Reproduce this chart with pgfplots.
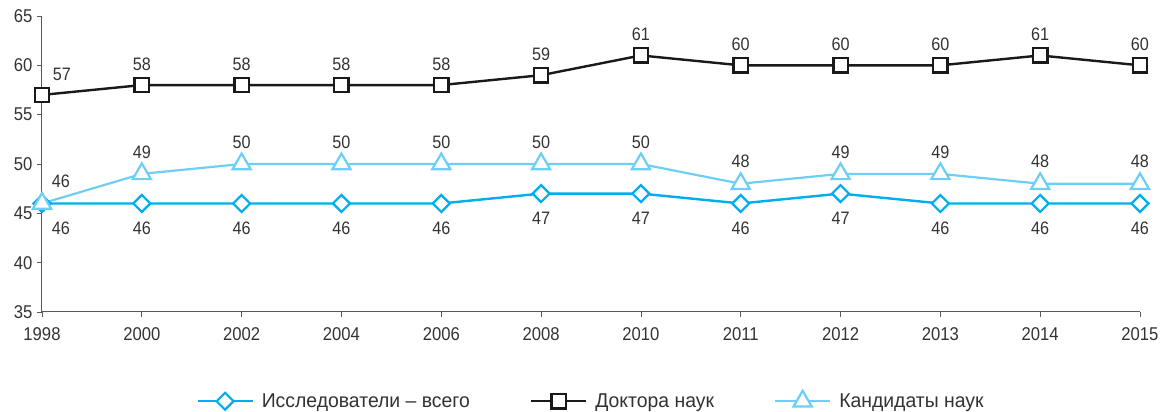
\documentclass[border=0pt]{standalone}
\usepackage{fontspec}
\setmainfont{Liberation Sans}[FakeStretch=0.97]
\newfontfamily\numfont{Liberation Sans}[FakeStretch=0.9]
\usepackage{pgfplots}
\pgfplotsset{compat=1.18}
\definecolor{cblue}{HTML}{00AEEF}
\definecolor{clight}{HTML}{6DCFF6}
\definecolor{axgray}{HTML}{5A5A5A}
\definecolor{txt}{HTML}{333333}
\begin{document}
\begin{tikzpicture}[x=1pt,y=1pt]
\useasboundingbox (0,0) rectangle (1160,412);
\begin{axis}[
  at={(42pt,100pt)}, anchor=south west,
  scale only axis, width=1098pt, height=296pt,
  xmin=0, xmax=11, ymin=35, ymax=65,
  axis x line*=bottom, axis y line*=left,
  xtick={0,...,11},
  xticklabels={1998,2000,2002,2004,2006,2008,2010,2011,2012,2013,2014,2015},
  ytick={35,40,...,65},
  tick align=outside, major tick length=5pt,
  tick style={axgray, line width=0.8pt},
  axis line style={axgray, line width=1pt},
  /pgf/number format/assume math mode=true,
  every tick label/.append style={font=\numfont\fontsize{18.5pt}{22pt}\selectfont, text=txt},
  xticklabel style={yshift=-7pt},
  yticklabel style={xshift=-1pt},
  nodes near coords,
  every node near coord/.append style={font=\numfont\fontsize{18pt}{21pt}\selectfont, text=txt, anchor=center},
  legend style={draw=none, at={(0.5,-0.30)}, anchor=center, legend columns=3,
    font=\fontsize{20pt}{24pt}\selectfont, text=txt,
    /tikz/every even column/.append style={column sep=58pt}},
  legend image code/.code={\draw[mark repeat=2,mark phase=2,#1] plot coordinates {(0pt,0pt)(27.5pt,0pt)(55pt,0pt)}; \path (61pt,0pt);},
]
\addplot[cblue, line width=2.4pt, mark=square*, mark size=6pt,
  mark options={rotate=45, fill=white, line width=2.2pt},
  every node near coord/.append style={yshift=-24.5pt},
  coordinate style/.condition={x==0}{xshift=19pt}]
  coordinates {(0,46)(1,46)(2,46)(3,46)(4,46)(5,47)(6,47)(7,46)(8,47)(9,46)(10,46)(11,46)};
\addlegendentry{Исследователи – всего}
\addplot[black!90, line width=2.4pt, mark=square*, mark size=7.2pt,
  mark options={fill=white, line width=2.4pt},
  every node near coord/.append style={yshift=21pt},
  coordinate style/.condition={x==0}{xshift=20pt}]
  coordinates {(0,57)(1,58)(2,58)(3,58)(4,58)(5,59)(6,61)(7,60)(8,60)(9,60)(10,61)(11,60)};
\addlegendentry{Доктора наук}
\addplot[clight, line width=2.2pt, mark=triangle*, mark size=10.5pt,
  mark options={fill=white, line width=2.2pt},
  every node near coord/.append style={yshift=22pt},
  coordinate style/.condition={x==0}{xshift=19pt}]
  coordinates {(0,46)(1,49)(2,50)(3,50)(4,50)(5,50)(6,50)(7,48)(8,49)(9,49)(10,48)(11,48)};
\addlegendentry{Кандидаты наук}
\end{axis}
\end{tikzpicture}
\end{document}
